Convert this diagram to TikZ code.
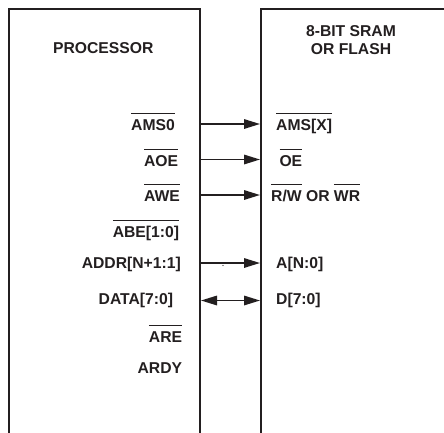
\documentclass[tikz,border=0pt]{standalone}
\usepackage{fontspec}
\setmainfont{Liberation Sans}
\usetikzlibrary{arrows.meta}
\definecolor{ink}{HTML}{231F20}
\newcommand\ovl[1]{\vbox{\hrule height 1pt\kern 5.2pt\hbox{\vphantom{A}\smash{#1}}}}
\begin{document}
\begin{tikzpicture}[x=1pt,y=-1pt,
  lbl/.style={font=\fontsize{15.7}{18}\selectfont\bfseries, text=ink, inner sep=0pt},
  sigL/.style={lbl, anchor=base east},
  sigR/.style={lbl, anchor=base west},
  boxline/.style={draw=ink, line width=2.4pt},
  sig/.style={draw=ink, line width=1.6pt, -{Triangle[length=16pt,width=9.5pt]}},
  bus/.style={draw=ink, line width=1.6pt, {Triangle[length=16pt,width=9.5pt]}-{Triangle[length=16pt,width=9.5pt]}}]
\useasboundingbox (0,0) rectangle (444,432);
% boxes
\draw[boxline] (9,433) -- (9,9) -- (200,9) -- (200,433);
\draw[boxline] (261,433) -- (261,9) -- (445,9);
% titles
\node[lbl, anchor=base] (proc) at (103.3,53.3) {PROCESSOR};
\node[lbl, anchor=base] (mem1) at (351,36) {8-BIT SRAM};
\node[lbl, anchor=base] (mem2) at (351,54.3) {OR FLASH};
% processor signals
\node[sigL] (ams0) at (175,130) {\ovl{AMS0}};
\node[sigL] (aoe) at (178.3,166) {\ovl{AOE}};
\node[sigL] (awe) at (180,201) {\ovl{AWE}};
\node[sigL] (abe) at (179.3,237) {\ovl{ABE[1:0]}};
\node[sigL] (addr) at (181,268) {ADDR[N+1:1]};
\node[sigL] (data) at (173.3,304) {DATA[7:0]};
\node[sigL] (are) at (182.3,342) {\ovl{ARE}};
\node[sigL] (ardy) at (182.3,373) {ARDY};
% memory signals
\node[sigR] (amsx) at (276,130) {\ovl{AMS[X]}};
\node[sigR] (oe) at (279.3,166) {\ovl{OE}};
\node[sigR] (rw) at (271,201) {\ovl{R/W} OR \ovl{WR}};
\node[sigR] (an) at (276,268) {A[N:0]};
\node[sigR] (dn) at (276,304) {D[7:0]};
% connector end points on the box edges
\coordinate (p1) at (201,124);   \coordinate (m1) at (260,124);
\coordinate (p2) at (201,159.5); \coordinate (m2) at (260,159.5);
\coordinate (p3) at (201,195);   \coordinate (m3) at (260,195);
\coordinate (p4) at (199,263);   \coordinate (m4) at (260,263);
\coordinate (p5) at (201,300.5); \coordinate (m5) at (260,300.5);
\draw[sig] (p1) -- (m1);
\draw[sig] (p2) -- (m2);
\draw[sig] (p3) -- (m3);
\draw[sig] (p4) -- (m4);
\draw[bus] (p5) -- (m5);
\fill[ink] (223,265.5) circle (0.7pt);
\end{tikzpicture}
\end{document}
